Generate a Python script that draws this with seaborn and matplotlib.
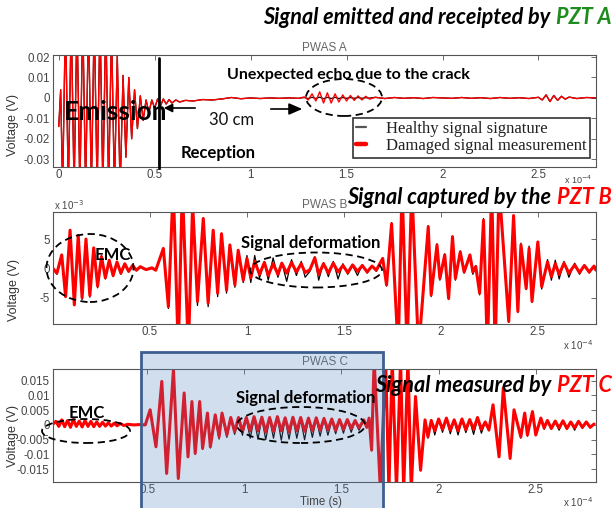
import numpy as np
import pandas as pd
import matplotlib
matplotlib.use("Agg")
import matplotlib.pyplot as plt
import seaborn as sns
from matplotlib.patches import Ellipse, Rectangle, FancyArrowPatch
from matplotlib.lines import Line2D

# ---------------------------------------------------------------------------
# Lamb-wave records of the three PWAS transducers
# time in units of 1e-4 s, voltages in mV
# ---------------------------------------------------------------------------
a_time = [0.00, 0.01, 0.02,
          0.035, 0.05, 0.065, 0.08, 0.095, 0.11, 0.125, 0.14, 0.155, 0.17,
          0.185, 0.20, 0.215, 0.23, 0.245, 0.26, 0.275, 0.29, 0.305, 0.32,
          0.335, 0.35, 0.365, 0.38, 0.395, 0.41, 0.425, 0.44, 0.455, 0.47,
          0.485, 0.50, 0.515, 0.53, 0.545, 0.56, 0.575, 0.59,
          0.61, 0.63, 0.66, 0.70, 0.75, 0.80, 0.85, 0.90, 0.95, 1.00, 1.05,
          1.10, 1.15, 1.20, 1.25,
          1.28,
          1.30, 1.32, 1.34, 1.36, 1.38, 1.40, 1.42, 1.44, 1.46, 1.48, 1.50,
          1.52, 1.54, 1.56, 1.58, 1.60, 1.62,
          1.65, 1.70, 1.75, 1.80, 1.85, 1.90, 1.95, 2.00, 2.05, 2.10, 2.15,
          2.20, 2.25, 2.30, 2.35, 2.40, 2.45, 2.50,
          2.52, 2.54, 2.56, 2.58, 2.60, 2.62, 2.64, 2.66,
          2.70, 2.75, 2.80]
a_damaged = [-14, 4, -45,
             40, -45, 40, -45, 40, -45, 40, -45, 40, -45,
             40, -45, 40, -45, 40, -45, 35, -45, 21, -45,
             11, -29, 10, -20, 4, -15, 1, -11, -1, -7,
             -1, -5, -0.5, -4, -0.5, -3, -0.8, -2.5,
             -1, -2, -1.2, -1.5, -0.8, -1, -0.5, 0.2, -0.4, 0, -0.3,
             0, -0.2, 0, -0.2,
             0.5,
             -1, 2, -1.5, 3, -2.5, 2.5, -2.5, 2, -2, 1.5, -1.5,
             1.2, -1.2, 1, -1, 0.8, -0.6,
             0.3, -0.3, 0.2, -0.2, 0.1, -0.3, 0.2, 0, -0.2, 0.2, -0.2,
             0.1, -0.3, 0.2, -0.2, 0.1, -0.3, 0.3,
             -1, 1.5, -1.8, 1.2, -1.2, 0.8, -0.6, 0.4,
             -0.3, 0.2, 0]
a_healthy = [-14, 4, -45,
             40, -45, 40, -45, 40, -45, 40, -45, 40, -45,
             40, -45, 40, -45, 40, -45, 35, -45, 21, -45,
             11, -29, 10, -20, 4, -15, 1, -11, -1, -7,
             -1, -5, -0.5, -4, -0.5, -3, -0.8, -2.5,
             -1, -2, -1.2, -1.5, -0.8, -1, -0.5, 0.2, -0.4, 0, -0.3,
             0, -0.2, 0, -0.2,
             0.2,
             -0.3, 0.3, -0.3, 0.4, -0.4, 0.3, -0.3, 0.3, -0.3, 0.2, -0.2,
             0.2, -0.2, 0.2, -0.2, 0.1, -0.1,
             0.3, -0.3, 0.2, -0.2, 0.1, -0.3, 0.2, 0, -0.2, 0.2, -0.2,
             0.1, -0.3, 0.2, -0.2, 0.1, -0.3, 0.3,
             -1, 1.5, -1.8, 1.2, -1.2, 0.8, -0.6, 0.4,
             -0.3, 0.2, 0]

b_time = [0.00, 0.02, 0.045, 0.065, 0.088, 0.11, 0.13, 0.15, 0.17, 0.19,
          0.21, 0.23, 0.25, 0.27, 0.29, 0.31, 0.33, 0.35, 0.37, 0.39,
          0.41, 0.43, 0.45, 0.48, 0.51, 0.53,
          0.569, 0.595, 0.62, 0.646, 0.667, 0.698, 0.72, 0.745, 0.775, 0.80,
          0.826, 0.849, 0.869, 0.895, 0.912, 0.938, 0.955, 0.981, 1.00,
          1.02, 1.04, 1.065, 1.09, 1.11, 1.135, 1.16, 1.18, 1.205, 1.23,
          1.255, 1.28, 1.30, 1.325, 1.35, 1.37, 1.395, 1.42, 1.445, 1.47,
          1.495, 1.52, 1.545, 1.57, 1.595, 1.62, 1.645, 1.667,
          1.70, 1.72, 1.746, 1.78, 1.80, 1.826, 1.85, 1.885, 1.935, 1.95,
          1.98, 1.995, 2.02, 2.04, 2.06, 2.075, 2.10, 2.12, 2.15, 2.165,
          2.18, 2.20, 2.22, 2.24, 2.262, 2.28, 2.30, 2.35, 2.375, 2.397,
          2.413, 2.44, 2.455, 2.47, 2.50, 2.52, 2.55, 2.57, 2.59, 2.61,
          2.635, 2.66, 2.69, 2.715, 2.74, 2.765, 2.79, 2.80]
b_damaged = [0, -0.8, 2.3, -4.8, 6.5, -6.2, 5.6, -5.0, 5.0, -4.6,
             3.5, -3.0, 2.0, -1.6, 1.4, -1.2, 1.1, -0.8, 0.8, -0.5,
             0.5, -0.3, 0.3, -0.2, 0.1, -0.3,
             3.4, -6.5, 14, -14, 14, -14, 11, -5.6, 8.5, -5.9,
             6.5, -4.2, 5.9, -3.7, 4.0, -2.8, 3.1, -2.0, 1.7,
             -1.6, 1.2, -1.0, 1.0, -1.2, 0.8, -1.0, 0.9, -0.8, 1.0,
             -0.6, 0.8, -0.7, -0.2, 1.8, -1.0, 0.8, -0.8, 0.9, -0.6,
             0.5, -0.7, 0.6, -0.5, 0.5, -0.6, 0.4, -0.3,
             1.7, -2.8, 7.6, -14, 14, -14, 14, -14, 7.1, -4.5,
             4.0, -1.7, 2.3, -5.1, 5.4, -1.7, 2.8, -0.6, 2.3, -0.6,
             0.3, -4.2, 8.2, -14, 14, -14, 14, -9.0, 9.0, -7.3,
             4.0, -3.4, 3.4, -5.6, 4.5, -3.1, 1.1, -1.4, 0.8, -1.0,
             0.9, -0.8, 0.6, -0.7, 0.5, -0.6, 0.4, -0.3]
b_healthy = [0, -1.0, 2.0, -4.5, 6.3, -6.0, 5.5, -5.3, 4.8, -4.9,
             3.3, -3.3, 2.2, -1.8, 1.3, -1.4, 1.0, -1.0, 0.7, -0.6,
             0.3, -0.4, 0.2, -0.2, 0.1, -0.2,
             3.2, -6.8, 14, -14, 14, -14, 11, -6.3, 8.6, -6.5,
             6.6, -4.8, 6.0, -4.2, 4.0, -3.2, 3.0, -2.4, 2.2,
             -2.4, 2.2, -1.6, 1.2, -2.0, 1.8, -1.5, 1.0, -2.2, 1.5,
             -1.2, 1.2, -1.5, -0.5, 2.0, -2.0, 1.0, -1.4, 1.2, -1.8,
             0.8, -1.0, 0.5, -1.2, 0.6, -0.8, 0.5, -0.5,
             1.7, -3.0, 7.8, -14, 14, -14, 14, -14, 7.3, -4.8,
             4.2, -2.0, 2.5, -5.3, 5.5, -2.0, 3.0, -0.8, 2.0, -1.0,
             0.5, -4.5, 8.5, -14, 14, -14, 14, -9.2, 9.0, -7.5,
             4.3, -3.6, 3.8, -5.8, 4.6, -3.5, 1.5, -2.0, 1.4, -1.8,
             1.2, -1.5, 0.9, -1.0, 0.6, -0.8, 0.5, -0.3]

c_time = [0.015, 0.03, 0.045, 0.06, 0.075, 0.09, 0.105, 0.12, 0.135, 0.15,
          0.165, 0.18, 0.195, 0.21, 0.225, 0.24, 0.255, 0.27, 0.285, 0.30,
          0.315, 0.33, 0.345, 0.36, 0.38, 0.40, 0.43, 0.46, 0.49,
          0.515, 0.545, 0.575, 0.60, 0.635, 0.66, 0.69, 0.71, 0.73, 0.747,
          0.77, 0.785, 0.81, 0.825, 0.85, 0.87, 0.885, 0.91, 0.93, 0.95,
          0.97, 0.99, 1.01, 1.03, 1.05, 1.07, 1.09, 1.11, 1.13, 1.15,
          1.17, 1.19, 1.21, 1.23, 1.25, 1.27, 1.29, 1.31, 1.33, 1.35,
          1.37, 1.39, 1.41, 1.43, 1.45, 1.47, 1.49, 1.51, 1.53, 1.55,
          1.57, 1.59, 1.615, 1.63, 1.642, 1.655,
          1.668, 1.70, 1.727, 1.744, 1.761, 1.783, 1.804, 1.82, 1.842, 1.859,
          1.881, 1.907, 1.93, 1.945, 1.962, 1.98, 2.00, 2.02, 2.04, 2.06,
          2.08, 2.10, 2.12, 2.14, 2.16, 2.18, 2.20, 2.22, 2.24, 2.259,
          2.28, 2.311, 2.333, 2.368, 2.388, 2.423, 2.443, 2.457, 2.483, 2.50,
          2.526, 2.543, 2.56, 2.58, 2.60, 2.62, 2.64, 2.66, 2.68, 2.70,
          2.72, 2.74, 2.76, 2.78, 2.80]
c_damaged = [0.3, 1.2, -0.5, 1.7, -0.6, 1.5, -0.8, 1.8, -0.5, 1.3,
             -0.7, 1.5, -0.5, 1.2, -0.6, 1.0, -0.5, 0.9, -0.4, 0.7,
             -0.4, 0.6, -0.3, 0.5, -0.2, 0.2, 0.0, 0.1, 0.0,
             5.1, -7.4, 14.7, -16.4, 18.7, -18.1, 10.8, -10.8, 7.9, -9.6,
             7.9, -7.9, 4.0, -7.4, 3.4, -4.0, 4.0, -3.4, 2.5, -2.3,
             2.5, -2.2, 2.5, -2.0, 2.8, -2.0, 2.6, -2.4, 2.5, -2.2,
             2.8, -2.0, 2.4, -2.4, 2.6, -2.0, 2.5, -2.2, 2.3, -2.0,
             2.4, -1.8, 2.2, -1.6, 2.0, -1.8, 1.8, -1.5, 1.8, -1.2,
             1.5, -1.0, 1.7, -0.8, 2.3, -8.5,
             22, -22, 22, -22, 22, -22, 22, -22, 22, -22,
             9.6, -15.3, 1.7, -4.0, 1.5, -2.0, 2.0, -1.5, 2.3, -1.8,
             1.7, -2.0, 2.0, -1.6, 1.8, -1.5, 2.5, -1.5, 1.0, -1.7,
             6.8, -10.8, 12.5, -11.3, 5.1, -4.0, 4.0, -3.4, 4.5, -3.4,
             2.3, -1.0, 1.5, -1.2, 1.3, -1.0, 1.4, -1.2, 1.0, -1.0,
             1.2, -0.8, 1.0, -0.8, 0.3]
c_healthy = [0.3, 1.0, -0.6, 1.5, -0.7, 1.4, -0.9, 1.6, -0.6, 1.2,
             -0.8, 1.3, -0.6, 1.1, -0.6, 0.9, -0.5, 0.8, -0.4, 0.6,
             -0.4, 0.5, -0.3, 0.4, -0.2, 0.2, 0.0, 0.1, 0.0,
             5.0, -7.5, 14.5, -16.5, 18.5, -18.3, 10.5, -11.0, 7.6, -10.0,
             7.5, -8.3, 3.8, -7.8, 3.0, -4.8, 3.5, -4.2, 2.2, -3.2,
             2.0, -3.5, 2.0, -4.5, 2.0, -4.8, 2.2, -5.0, 2.0, -4.5,
             2.5, -5.2, 2.0, -4.8, 2.2, -4.5, 1.8, -5.0, 2.0, -4.2,
             2.0, -3.8, 1.8, -3.5, 1.5, -3.0, 1.5, -2.8, 1.5, -2.5,
             1.2, -1.8, 1.5, -1.0, 2.2, -8.8,
             22, -22, 22, -22, 22, -22, 22, -22, 22, -22,
             9.8, -15.5, 1.5, -4.5, 1.8, -3.4, 1.8, -2.5, 2.0, -3.0,
             1.5, -3.4, 1.8, -2.6, 1.5, -3.2, 2.0, -2.8, 1.0, -2.0,
             6.5, -11.0, 12.3, -11.5, 5.0, -4.5, 3.8, -3.8, 4.2, -3.6,
             2.0, -1.5, 1.5, -1.5, 1.0, -1.8, 1.2, -1.5, 0.8, -1.8,
             1.0, -1.2, 0.8, -1.0, 0.3]

x_ticks = [0, 0.5, 1, 1.5, 2, 2.5]
x_ticklabels = ["0", "0.5", "1", "1.5", "2", "2.5"]
a_yticks = [20, 10, 0, -10, -20, -30]
a_yticklabels = ["0.02", "0.01", "0", "-0.01", "-0.02", "-0.03"]
b_yticks = [5, 0, -5]
b_yticklabels = ["5", "0", "-5"]
c_yticks = [15, 10, 5, 0, -5, -10, -15]
c_yticklabels = ["0.015", "0.01", "0.005", "0", "-0.005", "-0.01", "-0.015"]

# ---------------------------------------------------------------------------
sns.set_theme(style="white")
plt.rcParams["font.family"] = ["Liberation Sans", "DejaVu Sans"]

W, H = 616, 508
fig = plt.figure(figsize=(W / 100, H / 100), dpi=100)
fig.patch.set_facecolor("white")


def fxy(x, y):
    return x / W, 1 - y / H


def axes_px(left, top, right, bottom):
    return fig.add_axes([left / W, 1 - bottom / H, (right - left) / W, (bottom - top) / H])


def panel(ax, t, healthy, damaged, red_lw, xlim, ylim, xt, xtl, yt, ytl, title):
    df = pd.DataFrame({"t": t, "healthy": healthy, "damaged": damaged})
    sns.lineplot(data=df, x="t", y="healthy", ax=ax, color="black", lw=0.9,
                 estimator=None, sort=False)
    sns.lineplot(data=df, x="t", y="damaged", ax=ax, color="#ff0000", lw=red_lw,
                 estimator=None, sort=False)
    ax.set_xlim(*xlim)
    ax.set_ylim(*ylim)
    ax.set_xticks(xt)
    ax.set_xticklabels(xtl)
    ax.set_yticks(yt)
    ax.set_yticklabels(ytl)
    ax.set_xlabel("")
    ax.set_ylabel("")
    ax.tick_params(direction="in", top=True, right=True, length=3.5, width=0.6,
                   color="#555555", labelcolor="#444444", labelsize=8.3)
    ax.tick_params(axis="x", pad=1.2)
    ax.tick_params(axis="y", pad=2.5)
    for s in ax.spines.values():
        s.set_color("#555555")
        s.set_linewidth(0.8)
    ax.set_facecolor("white")
    ax.set_title(title, fontsize=8.5, color="#666666", pad=3)


ax_a = axes_px(53, 55, 596, 167)
panel(ax_a, a_time, a_healthy, a_damaged, 1.0, (-0.03, 2.80), (-33.8, 21.0),
      x_ticks, x_ticklabels, a_yticks, a_yticklabels, "PWAS A")

ax_b = axes_px(53, 212, 596, 324)
panel(ax_b, b_time, b_healthy, b_damaged, 2.2, (0.0, 2.80), (-9.45, 9.6),
      x_ticks[1:], x_ticklabels[1:], b_yticks, b_yticklabels, "PWAS B")

ax_c = axes_px(53, 369, 596, 482)
panel(ax_c, c_time, c_healthy, c_damaged, 2.2, (0.015, 2.81), (-19.3, 18.9),
      x_ticks[1:], x_ticklabels[1:], c_yticks, c_yticklabels, "PWAS C")

# axis labels and exponent notes
for (x, y) in [(13, 125), (14, 290), (13, 436)]:
    fig.text(*fxy(x, y), "Voltage (V)", rotation=90, ha="center", va="center",
             fontsize=9, color="#333333")
fig.text(*fxy(321, 502), "Time (s)", ha="center", va="center", fontsize=8.3, color="#444444")
fig.text(*fxy(578, 180), r"x 10$^{-4}$", ha="center", va="center", fontsize=6.5, color="#444444")
fig.text(*fxy(69, 205), r"x 10$^{-3}$", ha="center", va="center", fontsize=7, color="#444444")
fig.text(*fxy(578, 345), r"x 10$^{-4}$", ha="center", va="center", fontsize=7, color="#444444")
fig.text(*fxy(578, 502), r"x 10$^{-4}$", ha="center", va="center", fontsize=7, color="#444444")

# legend of panel A
handles = [Line2D([], [], color="#555555", lw=1.6), Line2D([], [], color="#ff0000", lw=3.2)]
leg = ax_a.legend(handles, ["Healthy signal signature", "Damaged signal measurement"],
                  loc="upper left", bbox_to_anchor=(353 / W, 1 - 118 / H),
                  bbox_transform=fig.transFigure, frameon=True, fancybox=False,
                  prop={"family": "Liberation Serif", "size": 12},
                  handlelength=0.6, handletextpad=1.2, borderpad=0.2,
                  labelspacing=0.05, borderaxespad=0)
leg.get_frame().set_edgecolor("#333333")
leg.get_frame().set_linewidth(1.2)
leg.get_frame().set_alpha(1)
for txt in leg.get_texts():
    txt.set_color("#222222")

# highlighted window on panel C
fig.patches.append(Rectangle(fxy(141, 515), (383 - 141) / W, (515 - 352) / H,
                             transform=fig.transFigure, facecolor="#4f81bd", alpha=0.26,
                             edgecolor="none", zorder=2))
fig.patches.append(Rectangle(fxy(141, 515), (383 - 141) / W, (515 - 352) / H,
                             transform=fig.transFigure, facecolor="none",
                             edgecolor="#3d5f8f", lw=2.0, zorder=2))

# dashed ellipses
for (cx, cy, w, h) in [(344, 97.5, 76, 37), (90, 268, 87, 68), (316, 270, 132, 35),
                       (86, 431, 88, 24), (301, 425, 128, 36)]:
    fig.patches.append(Ellipse(fxy(cx, cy), w / W, h / H, transform=fig.transFigure,
                               facecolor="none", edgecolor="black", lw=1.3,
                               linestyle=(0, (4, 2.5)), zorder=4))

# emission / reception marks
fig.lines.append(Line2D([158.5 / W] * 2, [1 - 58 / H, 1 - 168 / H], color="black",
                        lw=2.0, transform=fig.transFigure, zorder=4))
fig.patches.append(FancyArrowPatch(fxy(198, 108), fxy(161, 108), transform=fig.transFigure,
                                   arrowstyle="-|>,head_length=5,head_width=2.5",
                                   color="black", lw=1.2, zorder=4))
fig.patches.append(FancyArrowPatch(fxy(268, 109), fxy(305, 109), transform=fig.transFigure,
                                   arrowstyle="-|>,head_length=8,head_width=3.5",
                                   color="black", lw=1.2, zorder=4))

bold = dict(family=["Lato", "DejaVu Sans"], fontweight="bold", color="black",
            ha="center", va="center", zorder=5)
fig.text(*fxy(116, 112), "Emission", fontsize=19, **bold)
fig.text(*fxy(348, 75), "Unexpected echo due to the crack", fontsize=11.5, **bold)
fig.text(*fxy(218, 153), "Reception", fontsize=12, **bold)
fig.text(*fxy(232, 120), "30 cm", fontsize=12, family=["Lato", "DejaVu Sans"],
         ha="center", va="center", color="#111111", zorder=5)
fig.text(*fxy(113, 255), "EMC", fontsize=12, **bold)
fig.text(*fxy(311, 243), "Signal deformation", fontsize=12, **bold)
fig.text(*fxy(87, 413), "EMC", fontsize=12, **bold)
fig.text(*fxy(306, 398), "Signal deformation", fontsize=12, **bold)

renderer = fig.canvas.get_renderer()


def two_tone(x_right, y, head, tail, tail_color, size):
    kw = dict(fontsize=size, fontweight="bold", fontstyle="italic",
              family=["Lato", "DejaVu Sans"], va="center", zorder=6)
    t2 = fig.text(*fxy(x_right, y), tail, color=tail_color, ha="right", **kw)
    w2 = t2.get_window_extent(renderer).width
    gap = size * 100 / 72 * 0.27
    fig.text(*fxy(x_right - w2 - gap, y), head, color="black", ha="right", **kw)


two_tone(612, 18, "Signal emitted and receipted by", "PZT A", "#1e8c1e", 15.6)
two_tone(612, 197, "Signal captured by the", "PZT B", "#ff0000", 15.6)
two_tone(612, 385, "Signal measured by", "PZT C", "#ff0000", 15.6)

fig.savefig("out.png", dpi=100, facecolor="white")
